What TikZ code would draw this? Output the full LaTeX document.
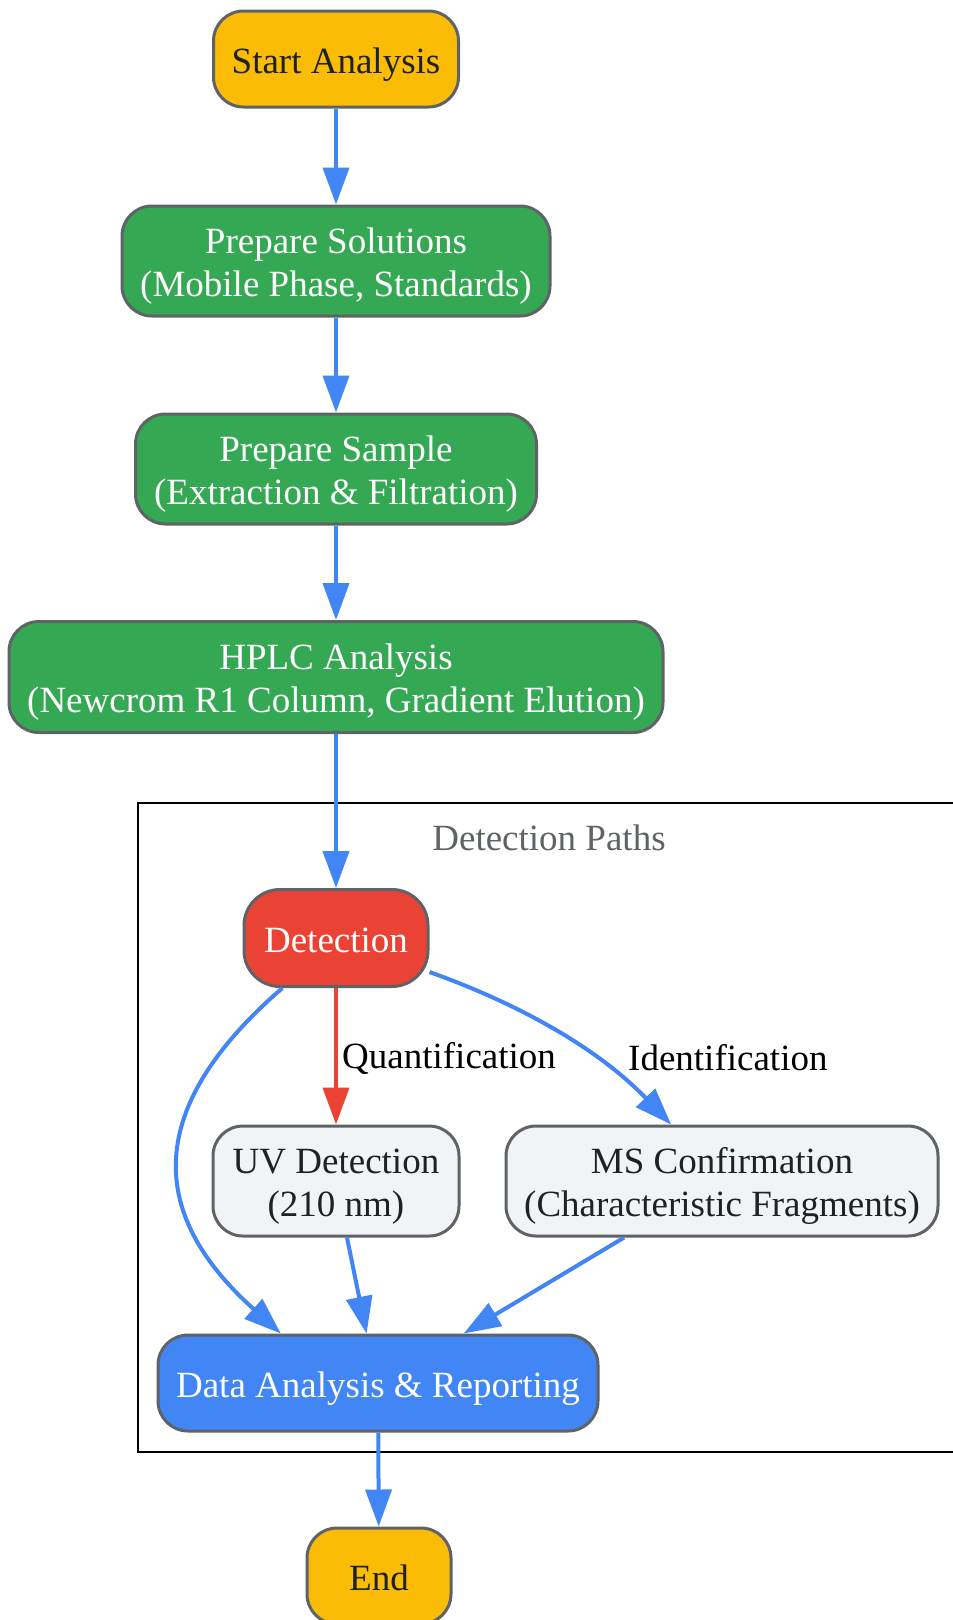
\documentclass[tikz,border=0pt]{standalone}
\usepackage{fontspec}
\setmainfont{Liberation Serif}
\usetikzlibrary{arrows.meta}
\definecolor{cyellow}{HTML}{FBBC05}
\definecolor{cgreen}{HTML}{34A853}
\definecolor{cred}{HTML}{EA4335}
\definecolor{cblue}{HTML}{4285F4}
\definecolor{clight}{HTML}{F1F3F4}
\definecolor{cborder}{HTML}{5F6368}
\definecolor{cdark}{HTML}{202124}
\tikzset{
  box/.style={draw=cborder, line width=3pt, rounded corners=30pt, align=center, inner sep=0pt,
    font=\fontsize{37}{43.5}\selectfont},
  oneline/.style={text height=37pt, text depth=8pt},
  twoline/.style={text height=79pt, text depth=8pt},
  startend/.style={box, oneline, fill=cyellow, text=cdark},
  prep/.style={box, twoline, fill=cgreen, text=white},
  detbox/.style={box, oneline, fill=cred, text=white},
  lightbox/.style={box, twoline, fill=clight, text=cdark},
  databox/.style={box, oneline, fill=cblue, text=white},
  flow/.style={draw=cblue, line width=4pt, -{Triangle[length=37pt,width=26pt]}},
  redflow/.style={draw=cred, line width=4pt, -{Triangle[length=37pt,width=26pt]}},
  elabel/.style={font=\fontsize{37}{43}\selectfont, text=black, inner sep=0pt},
}
\begin{document}
\begin{tikzpicture}[x=1pt,y=-1pt]
\clip (0,0) rectangle (953,1620);
\fill[white] (0,0) rectangle (953,1620);
% cluster
\draw[black, line width=2pt] (138,803) rectangle (970,1452);
\node[font=\fontsize{37}{43}\selectfont, text=cborder, inner sep=0pt] (clabel) at (549,838) {Detection Paths};
% nodes
\node[startend, minimum width=245pt, minimum height=96pt] (start) at (336,59) {Start Analysis};
\node[prep, minimum width=428pt, minimum height=110pt] (sol) at (336,261) {Prepare Solutions\\(Mobile Phase, Standards)};
\node[prep, minimum width=401pt, minimum height=110pt] (samp) at (336,469) {Prepare Sample\\(Extraction \& Filtration)};
\node[prep, minimum width=654pt, minimum height=111pt] (hplc) at (336,677) {HPLC Analysis\\(Newcrom R1 Column, Gradient Elution)};
\node[detbox, minimum width=184pt, minimum height=97pt, rounded corners=36pt] (det) at (336,938) {Detection};
\node[lightbox, minimum width=246pt, minimum height=110pt] (uv) at (336,1181) {UV Detection\\(210 nm)};
\node[lightbox, minimum width=432pt, minimum height=110pt] (ms) at (722,1181) {MS Confirmation\\(Characteristic Fragments)};
\node[databox, minimum width=440pt, minimum height=96pt] (data) at (378,1383) {Data Analysis \& Reporting};
\node[startend, minimum width=144pt, minimum height=96pt] (end) at (379,1576) {End};
% edges
\draw[flow] (start) -- (sol);
\draw[flow] (sol) -- (samp);
\draw[flow] (samp) -- (hplc);
\draw[flow] (hplc) -- (det);
\draw[redflow] (det) -- (uv);
\draw[flow] (det.-20) .. controls (500,997) and (590,1040) .. (ms.132);
\draw[flow] (det.223) .. controls (130,1120) and (160,1225) .. (data.153);
\draw[flow] (uv.-79) -- (data.103);
\draw[flow] (ms.210) -- (data.30);
\draw[flow] (data) -- (end);
% edge labels
\node[elabel, anchor=west] (lq) at (342,1058) {Quantification};
\node[elabel, anchor=west] (li) at (628,1058) {Identification};
\end{tikzpicture}
\end{document}
